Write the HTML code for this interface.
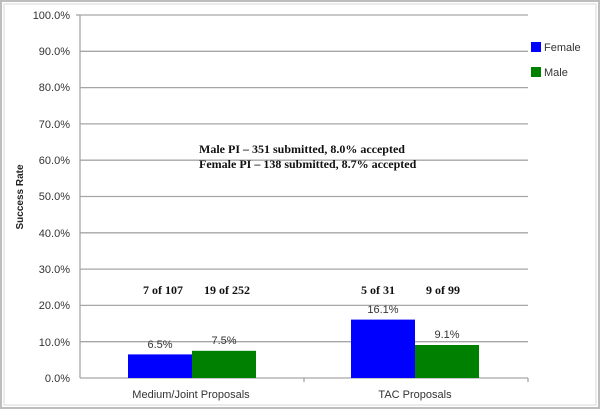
<!DOCTYPE html>
<html><head><style>
body{margin:0;background:#fff;}
svg text{font-family:"Liberation Sans",sans-serif;}
</style></head><body>
<svg width="600" height="409" viewBox="0 0 600 409" xmlns="http://www.w3.org/2000/svg">
<rect x="0.5" y="0.5" width="599" height="408" fill="#fff" stroke="#bdbdbd" stroke-width="3"/>
<rect x="4" y="4" width="592" height="401" fill="#fff" stroke="#d8d8d8" stroke-width="1"/>
<g stroke="#a6a6a6" stroke-width="1.3">
<line x1="80" y1="15" x2="528" y2="15"/>
<line x1="80" y1="51.3" x2="528" y2="51.3"/>
<line x1="80" y1="87.6" x2="528" y2="87.6"/>
<line x1="80" y1="123.9" x2="528" y2="123.9"/>
<line x1="80" y1="160.2" x2="528" y2="160.2"/>
<line x1="80" y1="196.5" x2="528" y2="196.5"/>
<line x1="80" y1="232.8" x2="528" y2="232.8"/>
<line x1="80" y1="269.1" x2="528" y2="269.1"/>
<line x1="80" y1="305.4" x2="528" y2="305.4"/>
<line x1="80" y1="341.7" x2="528" y2="341.7"/>
<line x1="80" y1="378" x2="528" y2="378"/>
<line x1="80" y1="15" x2="80" y2="378"/>
<line x1="76" y1="15" x2="80" y2="15"/>
<line x1="304" y1="378" x2="304" y2="382"/>
<line x1="528" y1="378" x2="528" y2="382"/>
</g>
<g font-size="11" fill="#333" text-anchor="end">
<text x="70" y="19">100.0%</text><text x="70" y="55">90.0%</text><text x="70" y="91">80.0%</text>
<text x="70" y="128">70.0%</text><text x="70" y="164">60.0%</text><text x="70" y="200">50.0%</text>
<text x="70" y="237">40.0%</text><text x="70" y="273">30.0%</text><text x="70" y="309">20.0%</text>
<text x="70" y="346">10.0%</text><text x="70" y="382">0.0%</text>
</g>
<text transform="translate(23,197) rotate(-90)" font-size="10" font-weight="bold" text-anchor="middle" fill="#222">Success Rate</text>
<rect x="128" y="354.4" width="64" height="23.6" fill="#0000ff"/>
<rect x="192" y="350.8" width="64" height="27.2" fill="#008000"/>
<rect x="351" y="319.6" width="64" height="58.4" fill="#0000ff"/>
<rect x="415" y="345" width="64" height="33" fill="#008000"/>
<g font-size="11" fill="#333" text-anchor="middle">
<text x="160" y="348">6.5%</text><text x="224" y="344">7.5%</text>
<text x="383" y="313">16.1%</text><text x="447" y="338">9.1%</text>
<text x="191" y="398">Medium/Joint Proposals</text><text x="415" y="398">TAC Proposals</text>
</g>
<g font-family="Liberation Serif,serif" font-size="12" font-weight="bold" fill="#111" text-anchor="middle">
<text x="163" y="294" style="font-family:'Liberation Serif',serif">7 of 107</text>
<text x="227" y="294" style="font-family:'Liberation Serif',serif">19 of 252</text>
<text x="378" y="294" style="font-family:'Liberation Serif',serif">5 of 31</text>
<text x="443" y="294" style="font-family:'Liberation Serif',serif">9 of 99</text>
<text x="199" y="153" text-anchor="start" style="font-family:'Liberation Serif',serif">Male PI – 351 submitted, 8.0% accepted</text>
<text x="199" y="168" text-anchor="start" style="font-family:'Liberation Serif',serif">Female PI – 138 submitted, 8.7% accepted</text>
</g>
<rect x="531" y="42" width="10" height="10" fill="#0000ff"/>
<text x="544" y="51" font-size="11" fill="#333">Female</text>
<rect x="531" y="67" width="10" height="10" fill="#008000"/>
<text x="544" y="76" font-size="11" fill="#333">Male</text>
</svg>
</body></html>
